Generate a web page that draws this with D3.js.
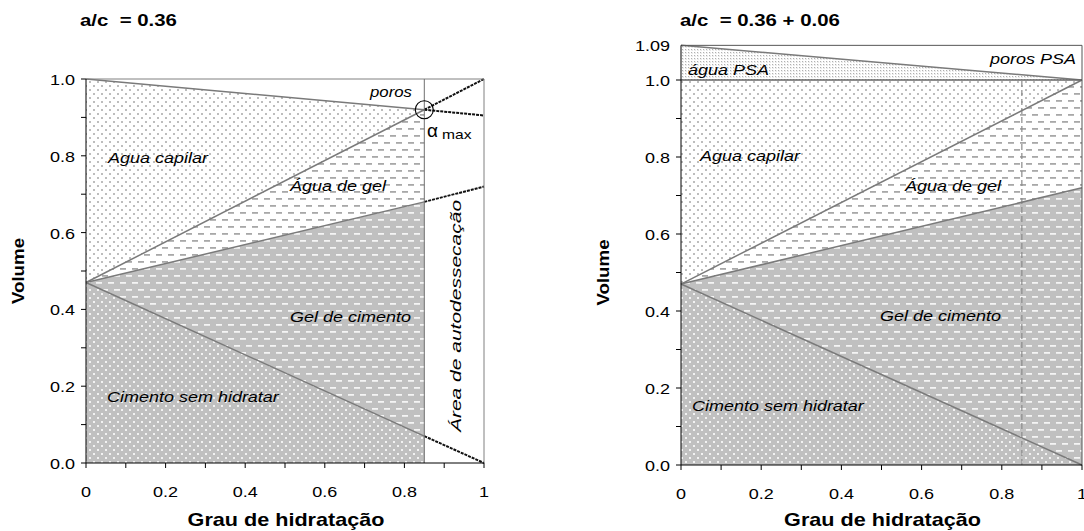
<!DOCTYPE html>
<html>
<head>
<meta charset="utf-8">
<script src="https://cdn.jsdelivr.net/npm/d3@7"></script>
<style>
  body { margin: 0; background: #fff; }
  text { font-family: "Liberation Sans", Arial, sans-serif; }
</style>
</head>
<body>
<svg id="chart" width="1084" height="531"></svg>
<script>
// grau de hidratação (alpha) nos pontos de leitura
var alpha = [0, 0.85, 1];
var alphaMax = 0.85;

// a/c = 0.36 -- limites superiores de cada fase
var cimentoEsq = [0.47, 0.07, 0.0];
var gelEsq = [0.47, 0.68, 0.72];
var aguaGelEsq = [0.47, 0.92, 1.0];
var capilarEsq = [1.0, 0.92, 0.905];

// a/c = 0.36 + 0.06
var alphaDir = [0, 1];
var cimentoDir = [0.47, 0.0];
var gelDir = [0.47, 0.72];
var aguaGelDir = [0.47, 1.0];
var capilarDir = [1.0, 1.0];
var psaDir = [1.09, 1.0];

var xTicks = [0, 0.2, 0.4, 0.6, 0.8, 1];
var yTicks = [0, 0.2, 0.4, 0.6, 0.8, 1.0];
var minorTicks = d3.range(0, 11).map(function(i) { return i / 10; });

var SX = 1.2; // o texto original é um pouco esticado na horizontal

var svg = d3.select("#chart");
var defs = svg.append("defs");

// padrões de preenchimento
function dots(id, bg, fg, w, h, r) {
    var p = defs.append("pattern").attr("id", id).attr("patternUnits", "userSpaceOnUse")
        .attr("width", w).attr("height", h);
    p.append("rect").attr("width", w).attr("height", h).attr("fill", bg);
    p.append("rect").attr("x", 1).attr("y", 1).attr("width", r).attr("height", r).attr("fill", fg);
    p.append("rect").attr("x", 1 + w / 2).attr("y", 1 + h / 2).attr("width", r).attr("height", r).attr("fill", fg);
}
function dashes(id, bg, fg) {
    var p = defs.append("pattern").attr("id", id).attr("patternUnits", "userSpaceOnUse")
        .attr("width", 12).attr("height", 14);
    p.append("rect").attr("width", 12).attr("height", 14).attr("fill", bg);
    p.append("rect").attr("x", 0).attr("y", 2).attr("width", 6).attr("height", 1.8).attr("fill", fg);
    p.append("rect").attr("x", 6).attr("y", 9).attr("width", 6).attr("height", 1.8).attr("fill", fg);
}
dots("cimento", "#c0c0c0", "#f2f2f2", 8, 8, 2);
dots("capilar", "#ffffff", "#bdbdbd", 8, 8, 2);
dots("psa", "#ffffff", "#b0b0b0", 3, 3, 1.2);
dashes("gel", "#c0c0c0", "#f4f4f4");
dashes("aguagel", "#ffffff", "#a8a8a8");

// texto com o alongamento horizontal
function txt(g, x, y, s, size) {
    return g.append("text").attr("transform", "translate(" + x + "," + y + ") scale(" + SX + ",1)")
        .attr("font-size", size).text(s);
}

function axes(g, x, y, ticksY, yLabelX, titulo, tituloX) {
    var gx = g.append("g").attr("transform", "translate(0," + y(0) + ")");
    gx.append("line").attr("x1", x(0)).attr("x2", x(1)).attr("stroke", "#000");
    gx.selectAll(".t").data(minorTicks).enter().append("line")
        .attr("x1", function(d) { return x(d); }).attr("x2", function(d) { return x(d); })
        .attr("y1", 0).attr("y2", 5).attr("stroke", "#000");
    xTicks.forEach(function(d) {
        txt(gx, x(d), 34, d3.format("")(d), 15).attr("text-anchor", "middle");
    });

    var gy = g.append("g").attr("transform", "translate(" + x(0) + ",0)");
    gy.append("line").attr("y1", y(0)).attr("y2", y(1)).attr("stroke", "#000");
    gy.selectAll(".t").data(minorTicks).enter().append("line")
        .attr("y1", function(d) { return y(d); }).attr("y2", function(d) { return y(d); })
        .attr("x1", -5).attr("x2", 0).attr("stroke", "#000");
    ticksY.forEach(function(d) {
        txt(gy, -11, y(d) + 6, d === 1.09 ? "1.09" : d.toFixed(1), 15).attr("text-anchor", "end");
    });

    g.append("text").attr("transform", "translate(" + yLabelX + "," + ((y(0) + y(1)) / 2) + ") rotate(-90) scale(1.1,1)")
        .attr("text-anchor", "middle").attr("font-size", 17).attr("font-weight", "bold").text("Volume");
    txt(g, (x(0) + x(1)) / 2 + 1, 526, "Grau de hidratação", 18)
        .attr("text-anchor", "middle").attr("font-weight", "bold");
    txt(g, tituloX, 26, titulo, 17).attr("font-weight", "bold").attr("xml:space", "preserve");
}

function label(g, x, y, s, size) {
    return txt(g, x, y, s, size || 15).attr("font-style", "italic");
}

function faixa(x, y, xs, lo, hi) {
    var pts = xs.map(function(a, i) { return { a: a, lo: lo[i], hi: hi[i] }; });
    return d3.area().x(function(d) { return x(d.a); })
        .y0(function(d) { return y(d.lo); }).y1(function(d) { return y(d.hi); })(pts);
}
function linha(x, y, xs, vs) {
    return d3.line().x(function(d, i) { return x(xs[i]); }).y(function(d) { return y(d); })(vs);
}

// ---------- gráfico esquerdo: a/c = 0.36 ----------
var xL = d3.scaleLinear().domain([0, 1]).range([86, 484]);
var yL = d3.scaleLinear().domain([0, 1]).range([463, 79]);
var gL = svg.append("g");

var aL = alpha.slice(0, 2);
var zeros = [0, 0];
gL.append("path").attr("d", faixa(xL, yL, aL, zeros, cimentoEsq.slice(0, 2))).attr("fill", "url(#cimento)");
gL.append("path").attr("d", faixa(xL, yL, aL, cimentoEsq.slice(0, 2), gelEsq.slice(0, 2))).attr("fill", "url(#gel)");
gL.append("path").attr("d", faixa(xL, yL, aL, gelEsq.slice(0, 2), aguaGelEsq.slice(0, 2))).attr("fill", "url(#aguagel)");
gL.append("path").attr("d", faixa(xL, yL, aL, aguaGelEsq.slice(0, 2), capilarEsq.slice(0, 2))).attr("fill", "url(#capilar)");

[cimentoEsq, gelEsq, aguaGelEsq, capilarEsq].forEach(function(v) {
    gL.append("path").attr("d", linha(xL, yL, aL, v.slice(0, 2)))
        .attr("fill", "none").attr("stroke", "#7a7a7a").attr("stroke-width", 1.5);
    gL.append("path").attr("d", linha(xL, yL, alpha.slice(1), v.slice(1)))
        .attr("fill", "none").attr("stroke", "#111").attr("stroke-width", 2).attr("stroke-dasharray", "3,1");
});

// moldura e linha de alpha max
gL.append("line").attr("x1", xL(0)).attr("x2", xL(1)).attr("y1", yL(1)).attr("y2", yL(1)).attr("stroke", "#808080");
gL.append("line").attr("x1", xL(1)).attr("x2", xL(1)).attr("y1", yL(0)).attr("y2", yL(1)).attr("stroke", "#808080");
gL.append("line").attr("x1", xL(alphaMax)).attr("x2", xL(alphaMax)).attr("y1", yL(0)).attr("y2", yL(1)).attr("stroke", "#707070");
gL.append("circle").attr("cx", xL(alphaMax)).attr("cy", yL(0.92)).attr("r", 9)
    .attr("fill", "none").attr("stroke", "#000").attr("stroke-width", 1.1);

axes(gL, xL, yL, yTicks, 24, "a/c  = 0.36", 80);

label(gL, 370, 97, "poros", 14);
label(gL, 108, 163, "Agua capilar");
label(gL, 290, 191, "Água de gel");
label(gL, 290, 322, "Gel de cimento");
label(gL, 107, 402, "Cimento sem hidratar");
gL.append("text").attr("x", 427).attr("y", 137).attr("font-size", 19).text("α");
txt(gL, 442, 139, "max", 13);
gL.append("text").attr("transform", "translate(461,316) rotate(-90) scale(1.4,1)").attr("text-anchor", "middle")
    .attr("font-size", 15).attr("font-style", "italic").text("Área de autodessecação");

// ---------- gráfico direito: a/c = 0.36 + 0.06 ----------
var xR = d3.scaleLinear().domain([0, 1]).range([681, 1082]);
var yR = d3.scaleLinear().domain([0, 1]).range([465, 80]);
var gR = svg.append("g");

gR.append("path").attr("d", faixa(xR, yR, alphaDir, zeros, cimentoDir)).attr("fill", "url(#cimento)");
gR.append("path").attr("d", faixa(xR, yR, alphaDir, cimentoDir, gelDir)).attr("fill", "url(#gel)");
gR.append("path").attr("d", faixa(xR, yR, alphaDir, gelDir, aguaGelDir)).attr("fill", "url(#aguagel)");
gR.append("path").attr("d", faixa(xR, yR, alphaDir, aguaGelDir, capilarDir)).attr("fill", "url(#capilar)");
gR.append("path").attr("d", faixa(xR, yR, alphaDir, capilarDir, psaDir)).attr("fill", "url(#psa)");

gR.append("line").attr("x1", xR(alphaMax)).attr("x2", xR(alphaMax)).attr("y1", yR(0)).attr("y2", yR(1))
    .attr("stroke", "#8a8a8a").attr("stroke-width", 1.2).attr("stroke-dasharray", "6,3");
[cimentoDir, gelDir, aguaGelDir, psaDir].forEach(function(v) {
    gR.append("path").attr("d", linha(xR, yR, alphaDir, v))
        .attr("fill", "none").attr("stroke", "#7a7a7a").attr("stroke-width", 1.5);
});
gR.append("line").attr("x1", xR(0)).attr("x2", xR(1)).attr("y1", yR(1)).attr("y2", yR(1))
    .attr("stroke", "#666").attr("stroke-width", 1.3);
gR.append("line").attr("x1", xR(0)).attr("x2", xR(1)).attr("y1", yR(1.09)).attr("y2", yR(1.09)).attr("stroke", "#555");
gR.append("line").attr("x1", xR(1)).attr("x2", xR(1)).attr("y1", yR(0)).attr("y2", yR(1.09)).attr("stroke", "#555");
gR.append("line").attr("x1", xR(0)).attr("x2", xR(0)).attr("y1", yR(1)).attr("y2", yR(1.09)).attr("stroke", "#000");

axes(gR, xR, yR, yTicks.concat([1.09]), 609, "a/c  = 0.36 + 0.06", 680);

label(gR, 688, 75, "água PSA");
label(gR, 990, 64, "poros PSA");
label(gR, 700, 161, "Agua capilar");
label(gR, 905, 191, "Água de gel");
label(gR, 880, 321, "Gel de cimento");
label(gR, 692, 411, "Cimento sem hidratar");
</script>
</body>
</html>
